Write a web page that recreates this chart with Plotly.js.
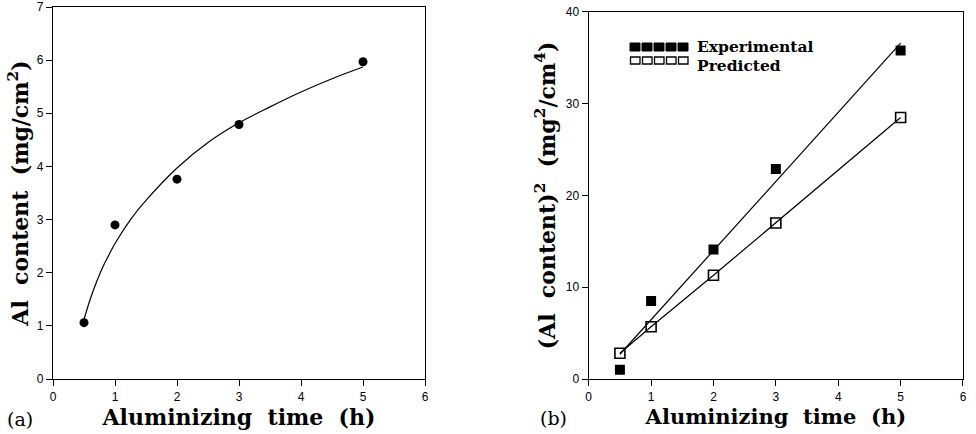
<!DOCTYPE html>
<html><head><meta charset="utf-8">
<script src="https://cdn.plot.ly/plotly-3.0.1.min.js"></script>
<style>html,body{margin:0;padding:0;background:#fff}</style>
</head><body><div id="chart" style="width:976px;height:434px"></div>
<script>
// (a) Al content vs time
const timeA = [0.5, 1, 2, 3, 5];
const alContent = [1.06, 2.9, 3.76, 4.79, 5.97];
const fitAx = [0.5, 0.6, 0.7, 0.8, 0.9, 1.0, 1.25, 1.5, 2.0, 2.5, 3.0, 3.5, 4.0, 4.5, 5.0];
const fitAy = [1.12, 1.5, 1.82, 2.1, 2.33, 2.55, 3.0, 3.36, 3.97, 4.45, 4.82, 5.12, 5.4, 5.65, 5.87];
// (b) squared Al content vs time
const timeB = [0.5, 1, 2, 3, 5];
const expSq = [1.0, 8.5, 14.1, 22.9, 35.8];
const predSq = [2.8, 5.7, 11.3, 17.0, 28.5];
const expFitX = [0.5, 5.0];
const expFitY = [2.7, 36.6];
const predFitX = [0.5, 1, 2, 3, 5];
const predFitY = [2.8, 5.7, 11.3, 17.0, 28.5];
const xTicks = [0, 1, 2, 3, 4, 5, 6];
const yTicksA = [0, 1, 2, 3, 4, 5, 6, 7];
const yTicksB = [0, 10, 20, 30, 40];
const legendNames = ['Experimental', 'Predicted'];

const serif = 'DejaVu Serif, serif';
const sans = 'Liberation Sans, Arial, sans-serif';

const traces = [
  {x: fitAx, y: fitAy, xaxis: 'x', yaxis: 'y', mode: 'lines', line: {color: '#000', width: 1.2, shape: 'spline'}},
  {x: timeA, y: alContent, xaxis: 'x', yaxis: 'y', mode: 'markers', marker: {symbol: 'circle', size: 9, color: '#000'}},
  {x: expFitX, y: expFitY, xaxis: 'x2', yaxis: 'y2', mode: 'lines', line: {color: '#000', width: 1.2}},
  {x: predFitX, y: predFitY, xaxis: 'x2', yaxis: 'y2', mode: 'lines', line: {color: '#000', width: 1.2}},
  {x: timeB, y: expSq, xaxis: 'x2', yaxis: 'y2', mode: 'markers', marker: {symbol: 'square', size: 10, color: '#000'}, name: legendNames[0]},
  {x: timeB, y: predSq, xaxis: 'x2', yaxis: 'y2', mode: 'markers', marker: {symbol: 'square-open', size: 10, color: '#000', line: {width: 1.6}}, name: legendNames[1]}
];

const axCommon = {
  showgrid: false, zeroline: false, showline: true, mirror: true, linecolor: '#000', linewidth: 1.2,
  ticks: 'outside', ticklen: 6, tickwidth: 1, tickcolor: '#000',
  tickfont: {family: sans, size: 12, color: '#000'}, fixedrange: true
};
const tf = (s) => ({family: serif, size: s, color: '#000', weight: 'bold'});

// legend squares (decoration, paper coordinates)
const W = 910, H = 372, L = 53, B = 379;
const px = (v) => (v - L) / W;
const py = (v) => (B - v) / H;
const shapes = [];
for (let i = 0; i < 5; i++) {
  const x0 = 630 + i * 12;
  shapes.push({type: 'rect', xref: 'paper', yref: 'paper', x0: px(x0), x1: px(x0 + 10), y0: py(51), y1: py(43),
    fillcolor: '#000', line: {color: '#000', width: 1}});
  shapes.push({type: 'rect', xref: 'paper', yref: 'paper', x0: px(x0 + 0.5), x1: px(x0 + 10), y0: py(64), y1: py(57),
    fillcolor: 'rgba(0,0,0,0)', line: {color: '#000', width: 1.3}});
}

const layout = {
  width: 976, height: 434,
  margin: {l: L, r: 13, t: 7, b: 55},
  paper_bgcolor: '#fff', plot_bgcolor: '#fff',
  showlegend: false,
  shapes: shapes,
  xaxis: Object.assign({}, axCommon, {domain: [0, 0.4088], range: [0, 6], tickvals: xTicks, anchor: 'y',
    title: {text: 'Aluminizing  time  (h)', font: tf(22), standoff: 0}}),
  yaxis: Object.assign({}, axCommon, {domain: [0, 1], range: [0, 7], tickvals: yTicksA, anchor: 'x',
    title: {text: 'Al  content  (mg/cm<sup>2</sup>)', font: tf(22), standoff: 2}}),
  xaxis2: Object.assign({}, axCommon, {domain: [0.5887, 1], range: [0, 6], tickvals: xTicks, anchor: 'y2',
    title: {text: 'Aluminizing  time  (h)', font: tf(21), standoff: 0}}),
  yaxis2: Object.assign({}, axCommon, {domain: [0, 0.9866], range: [0, 40], tickvals: yTicksB, anchor: 'x2',
    title: {text: '(Al  content)<sup>2</sup>  (mg<sup>2</sup>/cm<sup>4</sup>)', font: tf(22), standoff: 4}}),
  annotations: [
    {xref: 'paper', yref: 'paper', x: px(5), y: py(419), xanchor: 'left', yanchor: 'middle', showarrow: false,
      text: '(a)', font: {family: serif, size: 19, color: '#000'}},
    {xref: 'paper', yref: 'paper', x: px(538), y: py(418), xanchor: 'left', yanchor: 'middle', showarrow: false,
      text: '(b)', font: {family: serif, size: 19, color: '#000'}},
    {xref: 'paper', yref: 'paper', x: px(695), y: py(46), xanchor: 'left', yanchor: 'middle', showarrow: false,
      text: '<b>' + legendNames[0] + '</b>', font: {family: serif, size: 15.5, color: '#000'}},
    {xref: 'paper', yref: 'paper', x: px(695), y: py(65), xanchor: 'left', yanchor: 'middle', showarrow: false,
      text: '<b>' + legendNames[1] + '</b>', font: {family: serif, size: 15.5, color: '#000'}}
  ]
};

Plotly.newPlot('chart', traces, layout, {staticPlot: true, displayModeBar: false});
</script>
</body></html>
